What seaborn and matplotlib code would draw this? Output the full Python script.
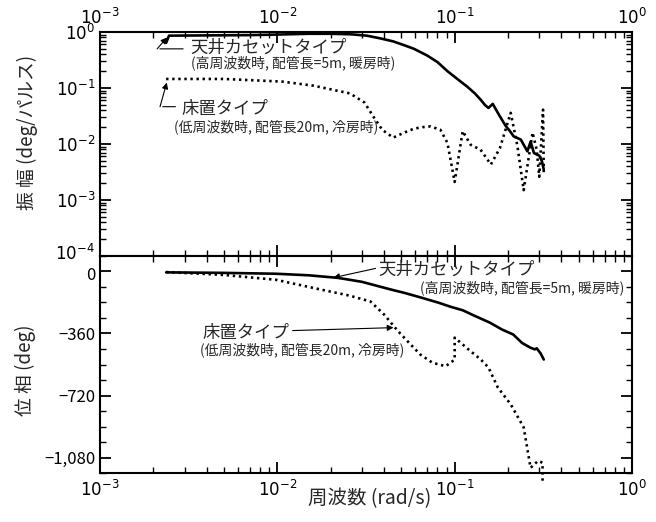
import numpy as np
import pandas as pd
import matplotlib
matplotlib.use("Agg")
import matplotlib.pyplot as plt
import matplotlib.transforms as mtransforms
import seaborn as sns
from matplotlib.ticker import FixedLocator, LogLocator, NullFormatter

# ---------------- data ----------------
# 天井カセットタイプ (solid)
freq_ceiling_mag = [0.00236, 0.00245, 0.004, 0.007, 0.010, 0.015, 0.020, 0.026, 0.032,
                    0.038, 0.045, 0.052, 0.059, 0.070, 0.080, 0.091, 0.105, 0.118, 0.130,
                    0.140, 0.148, 0.155, 0.164, 0.178, 0.194, 0.205, 0.215, 0.236, 0.257,
                    0.268, 0.280, 0.290, 0.300, 0.310, 0.318]
mag_ceiling = [0.64, 0.86, 0.87, 0.88, 0.90, 0.93, 0.93, 0.91, 0.86,
               0.77, 0.68, 0.58, 0.50, 0.38, 0.29, 0.20, 0.14, 0.105, 0.08,
               0.062, 0.050, 0.044, 0.052, 0.033, 0.021, 0.017, 0.0137, 0.012, 0.0074,
               0.011, 0.0069, 0.0065, 0.0062, 0.005, 0.0035]

# 床置タイプ (dotted)
freq_floor_mag = [0.00236, 0.005, 0.0107, 0.016, 0.0257, 0.031, 0.035, 0.039, 0.045,
                  0.052, 0.059, 0.066, 0.073, 0.083, 0.091, 0.100, 0.111, 0.123, 0.140,
                  0.160, 0.180, 0.207, 0.226, 0.245, 0.275, 0.290, 0.300, 0.315, 0.318]
mag_floor = [0.145, 0.145, 0.13, 0.11, 0.08, 0.055, 0.03, 0.018, 0.013,
             0.016, 0.0188, 0.020, 0.0206, 0.018, 0.0105, 0.0021, 0.017, 0.0097, 0.0079,
             0.0043, 0.0085, 0.036, 0.0091, 0.0015, 0.016, 0.0079, 0.0026, 0.041, 0.0031]

freq_ceiling_phase = [0.00236, 0.005, 0.0098, 0.015, 0.022, 0.030, 0.037, 0.045, 0.052,
                      0.065, 0.081, 0.095, 0.111, 0.130, 0.158, 0.185, 0.214, 0.240,
                      0.267, 0.283, 0.290, 0.305, 0.318]
phase_ceiling = [-5, -8, -13, -22, -37, -60, -85, -108, -124,
                 -152, -181, -205, -225, -258, -297, -337, -366, -415,
                 -442, -452, -446, -475, -511]

freq_floor_phase = [0.00236, 0.005, 0.0098, 0.0178, 0.0255, 0.0335, 0.040, 0.048, 0.056,
                    0.064, 0.075, 0.089, 0.100, 0.100, 0.123, 0.140, 0.155, 0.175,
                    0.207, 0.245, 0.268, 0.295, 0.313, 0.313]
phase_floor = [-3, -20, -48, -106, -140, -174, -250, -347, -420,
               -482, -530, -550, -512, -384, -463, -510, -557, -673,
               -771, -905, -1140, -1100, -1110, -1225]

x_ticks = [1e-3, 1e-2, 1e-1, 1e0]
x_ticklabels = [r"$10^{-3}$", r"$10^{-2}$", r"$10^{-1}$", r"$10^{0}$"]
mag_ticks = [1e-4, 1e-3, 1e-2, 1e-1, 1e0]
mag_ticklabels = [r"$10^{-4}$", r"$10^{-3}$", r"$10^{-2}$", r"$10^{-1}$", r"$10^{0}$"]
phase_ticks = [0, -360, -720, -1080]
phase_ticklabels = ["0", "−360", "−720", "−1,080"]

label_ceiling = "天井カセットタイプ"
sub_ceiling = "(高周波数時, 配管長=5m, 暖房時)"
label_floor = "床置タイプ"
sub_floor = "(低周波数時, 配管長20m, 冷房時)"

# ---------------- style ----------------
sns.set_theme(style="ticks")
plt.rcParams["font.family"] = ["Noto Sans CJK JP", "DejaVu Sans"]
plt.rcParams["mathtext.fontset"] = "dejavusans"
plt.rcParams["axes.linewidth"] = 1.5

W, H = 656, 522
fig = plt.figure(figsize=(W / 100, H / 100), dpi=100)
fig.patch.set_facecolor("white")
ax1 = fig.add_axes([100 / W, 1 - 256 / H, 532 / W, 224 / H])
ax2 = fig.add_axes([100 / W, 1 - 473 / H, 532 / W, 217 / H])

solid_kw = dict(color="black", linewidth=1.9, estimator=None, sort=False)
dot_kw = dict(color="black", linewidth=1.9, estimator=None, sort=False,
              linestyle=(0, (0.9, 1.4)))

sns.lineplot(x=freq_ceiling_mag, y=mag_ceiling, ax=ax1, **solid_kw)
sns.lineplot(x=freq_floor_mag, y=mag_floor, ax=ax1, **dot_kw)
sns.lineplot(x=freq_ceiling_phase, y=phase_ceiling, ax=ax2, **solid_kw)
sns.lineplot(x=freq_floor_phase, y=phase_floor, ax=ax2, clip_on=False, **dot_kw)

for ax in (ax1, ax2):
    ax.set_xscale("log")
    ax.set_xlim(1e-3, 1)
    ax.set_xlabel("")
    ax.set_ylabel("")
    ax.set_facecolor("white")
    for sp in ax.spines.values():
        sp.set_visible(True)
        sp.set_color("black")
        sp.set_linewidth(1.5)
    ax.xaxis.set_major_locator(FixedLocator(x_ticks))
    ax.xaxis.set_minor_locator(LogLocator(base=10, subs=np.arange(2, 10)))
    ax.xaxis.set_minor_formatter(NullFormatter())
    ax.tick_params(axis="both", which="major", direction="in", length=8, width=1.3,
                   labelsize=12, color="black", labelcolor="black")
    ax.tick_params(axis="both", which="minor", direction="in", length=4, width=1.0,
                   color="black")
    ax.tick_params(axis="both", which="both", top=True, bottom=True, left=True, right=True)

# top panel
ax1.set_yscale("log")
ax1.set_ylim(1e-4, 1)
ax1.yaxis.set_major_locator(FixedLocator(mag_ticks))
ax1.set_yticklabels(mag_ticklabels)
ax1.yaxis.set_minor_locator(LogLocator(base=10, subs=np.arange(2, 10)))
ax1.yaxis.set_minor_formatter(NullFormatter())
ax1.set_xticks(x_ticks)
ax1.set_xticklabels(x_ticklabels)
ax1.tick_params(axis="x", which="both", labeltop=True, labelbottom=False, pad=3)

# bottom panel
ax2.set_ylim(-1170, 90)
ax2.yaxis.set_major_locator(FixedLocator(phase_ticks))
ax2.set_yticklabels(phase_ticklabels)
ax2.yaxis.set_minor_locator(FixedLocator(np.arange(-1170, 91, 90)))
ax2.set_xticks(x_ticks)
ax2.set_xticklabels(x_ticklabels)
ax2.tick_params(axis="x", which="both", labeltop=False, labelbottom=True, pad=5)

# nudge the lowest magnitude label up a little, and the phase "0" label down,
# so they do not collide at the shared panel boundary
shift_up = mtransforms.ScaledTranslation(0, 4 / 100, fig.dpi_scale_trans)
shift_dn = mtransforms.ScaledTranslation(0, -2 / 100, fig.dpi_scale_trans)
lab_low = ax1.yaxis.get_major_ticks()[0].label1
lab_low.set_transform(lab_low.get_transform() + shift_up)
lab_zero = ax2.yaxis.get_major_ticks()[0].label1
lab_zero.set_transform(lab_zero.get_transform() + shift_dn)

# axis labels
fig.text(27 / W, 1 - 132 / H, "振 幅 (deg/パルス)", rotation=90, ha="center", va="center",
         fontsize=13.5)
fig.text(25 / W, 1 - 370 / H, "位 相 (deg)", rotation=90, ha="center", va="center",
         fontsize=13.5)
fig.text(370 / W, 1 - 499 / H, "周波数 (rad/s)", ha="center", va="center", fontsize=14)

# ---------------- annotations: top ----------------
lk = dict(color="black", linewidth=0.8)
ax1.text(3.22e-3, 0.525, label_ceiling, fontsize=12.5, ha="left", va="center")
ax1.text(3.27e-3, 0.283, sub_ceiling, fontsize=10, ha="left", va="center")
ax1.annotate("", xy=(2.1e-3, 0.50), xytext=(3.05e-3, 0.50),
             arrowprops=dict(arrowstyle="-", **lk))
ax1.annotate("", xy=(2.39e-3, 0.80), xytext=(2.1e-3, 0.50),
             arrowprops=dict(arrowstyle="-|>", mutation_scale=9, shrinkA=0, shrinkB=0,
                             facecolor="black", **lk))

ax1.text(2.87e-3, 0.0427, label_floor, fontsize=12.5, ha="left", va="center")
ax1.text(2.62e-3, 0.0204, sub_floor, fontsize=10, ha="left", va="center")
ax1.annotate("", xy=(2.18e-3, 0.0464), xytext=(2.76e-3, 0.0464),
             arrowprops=dict(arrowstyle="-", **lk))
ax1.annotate("", xy=(2.38e-3, 0.125), xytext=(2.18e-3, 0.0464),
             arrowprops=dict(arrowstyle="-|>", mutation_scale=9, shrinkA=0, shrinkB=0,
                             facecolor="black", **lk))

# ---------------- annotations: bottom ----------------
ax2.text(0.0372, 10, label_ceiling, fontsize=12.5, ha="left", va="center")
ax2.text(0.90, -94, sub_ceiling, fontsize=10, ha="right", va="center")
ax2.annotate("", xy=(0.0207, -36), xytext=(0.0358, 18),
             arrowprops=dict(arrowstyle="-|>", mutation_scale=9, shrinkA=0, shrinkB=0,
                             facecolor="black", **lk))

ax2.text(3.77e-3, -355, label_floor, fontsize=12.5, ha="left", va="center")
ax2.text(3.67e-3, -453, sub_floor, fontsize=10, ha="left", va="center")
ax2.annotate("", xy=(0.0452, -326), xytext=(0.0122, -343),
             arrowprops=dict(arrowstyle="-|>", mutation_scale=9, shrinkA=0, shrinkB=0,
                             facecolor="black", **lk))

fig.savefig("out.png", dpi=100, facecolor="white")
